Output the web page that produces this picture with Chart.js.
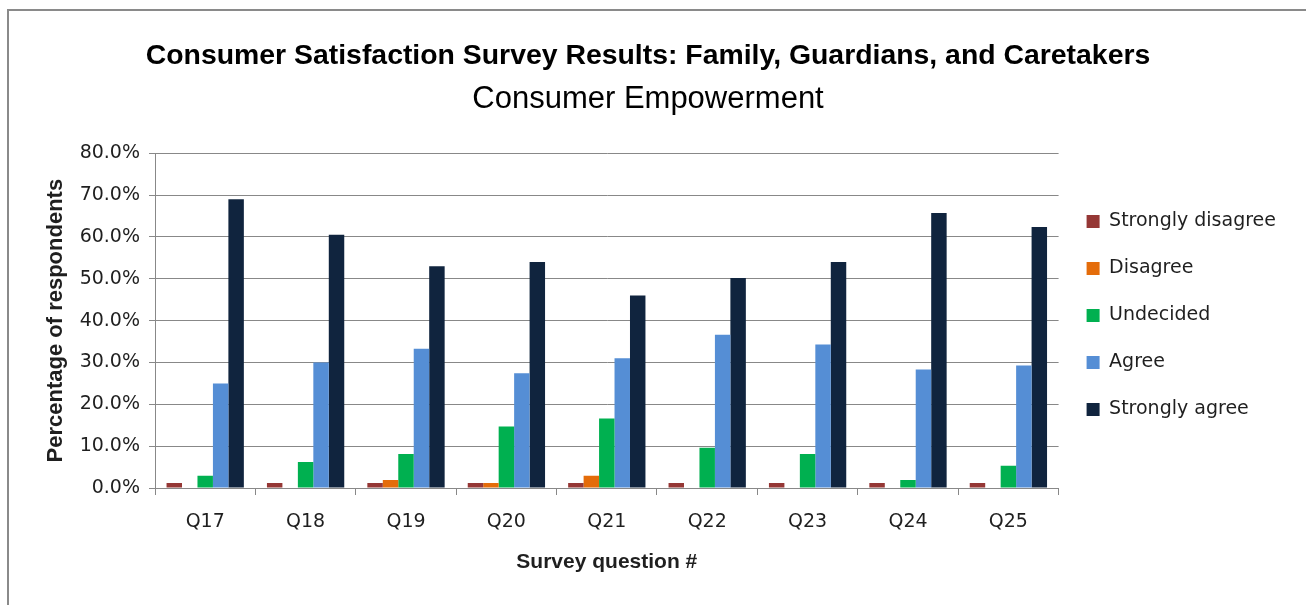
<!DOCTYPE html>
<html lang="en">
<head>
<meta charset="UTF-8">
<title>Consumer Satisfaction Survey Results</title>
<script src="https://cdn.jsdelivr.net/npm/chart.js"></script>
<style>
body {
    margin: 0;
    background: #fff;
}
.frame {
    position: absolute;
    left: 7px;
    top: 9px;
    width: 1297px;
    height: 600px;
    border-top: 2px solid #8a8a8a;
    border-left: 2px solid #8a8a8a;
    border-right: 1px solid #e6e6e6;
    pointer-events: none;
}
#chart {
    position: absolute;
    left: 0;
    top: 0;
}
</style>
</head>
<body>
<canvas id="chart" width="1306" height="605"></canvas>
<div class="frame"></div>

<script>
// Du lieu doc tu hinh (phan tram)
const questions = ['Q17', 'Q18', 'Q19', 'Q20', 'Q21', 'Q22', 'Q23', 'Q24', 'Q25'];
const stronglyDisagree = [1.2, 1.2, 1.2, 1.2, 1.2, 1.2, 1.2, 1.2, 1.2];
const disagree = [0, 0, 1.9, 1.2, 2.9, 0, 0, 0, 0];
const undecided = [2.9, 6.2, 8.1, 14.7, 16.6, 9.6, 8.1, 1.9, 5.3];
const agree = [25.0, 30.0, 33.3, 27.4, 31.0, 36.6, 34.3, 28.3, 29.3];
const stronglyAgree = [69.0, 60.5, 53.0, 54.0, 46.0, 50.2, 54.0, 65.7, 62.4];
const yTickValues = [0, 10, 20, 30, 40, 50, 60, 70, 80];

const textColor = '#1f1f1f';
const gridColor = '#888888';

const ctx = document.getElementById('chart').getContext('2d');
const chart = new Chart(ctx, {
    type: 'bar',
    data: {
        labels: questions,
        datasets: [
            { label: 'Strongly disagree', data: stronglyDisagree, backgroundColor: '#953735' },
            { label: 'Disagree', data: disagree, backgroundColor: '#e46c0a' },
            { label: 'Undecided', data: undecided, backgroundColor: '#00b050' },
            { label: 'Agree', data: agree, backgroundColor: '#558ed5' },
            { label: 'Strongly agree', data: stronglyAgree, backgroundColor: '#10243e' }
        ]
    },
    options: {
        responsive: false,
        animation: false,
        layout: {
            padding: { left: 10, right: 20, top: 0, bottom: 0 }
        },
        datasets: {
            bar: {
                categoryPercentage: 0.77,
                barPercentage: 1.0
            }
        },
        plugins: {
            title: {
                display: true,
                text: 'Consumer Satisfaction Survey Results: Family, Guardians, and Caretakers',
                color: '#000',
                font: { family: "'Liberation Sans'", size: 28.4, weight: 'bold' },
                padding: { top: 39, bottom: 8 }
            },
            subtitle: {
                display: true,
                text: 'Consumer Empowerment',
                color: '#000',
                font: { family: "'Liberation Sans'", size: 31, weight: 'normal' },
                padding: { top: 0, bottom: 35 }
            },
            legend: {
                position: 'right',
                // titre vide pour decaler les items vers le bas
                title: {
                    display: true,
                    text: ' ',
                    font: { size: 10 },
                    padding: 7
                },
                labels: {
                    color: textColor,
                    font: { family: "'DejaVu Sans'", size: 19 },
                    boxWidth: 13,
                    boxHeight: 13,
                    padding: 28
                }
            },
            tooltip: { enabled: false }
        },
        scales: {
            x: {
                grid: {
                    offset: true,
                    drawOnChartArea: false,
                    color: gridColor,
                    tickLength: 7
                },
                border: { color: gridColor, width: 1 },
                ticks: {
                    color: textColor,
                    font: { family: "'DejaVu Sans'", size: 19 },
                    padding: 16
                },
                title: {
                    display: true,
                    text: 'Survey question #',
                    color: textColor,
                    font: { family: "'Liberation Sans'", size: 21, weight: 'bold' },
                    padding: { top: 0, bottom: 30 }
                },
                afterFit: function (scale) { scale.height = 117; }
            },
            y: {
                min: 0,
                max: 80,
                afterBuildTicks: function (scale) {
                    scale.ticks = yTickValues.map(v => ({ value: v }));
                },
                grid: {
                    color: gridColor,
                    tickLength: 6
                },
                border: { color: gridColor, width: 1 },
                ticks: {
                    color: textColor,
                    font: { family: "'DejaVu Sans'", size: 19 },
                    padding: 9,
                    callback: v => v.toFixed(1) + '%'
                },
                title: {
                    display: true,
                    text: 'Percentage of respondents',
                    color: textColor,
                    font: { family: "'Liberation Sans'", size: 22, weight: 'bold' },
                    padding: { top: 33, bottom: 0 }
                },
                afterFit: function (scale) { scale.width = 145; }
            }
        }
    }
});
</script>
</body>
</html>
